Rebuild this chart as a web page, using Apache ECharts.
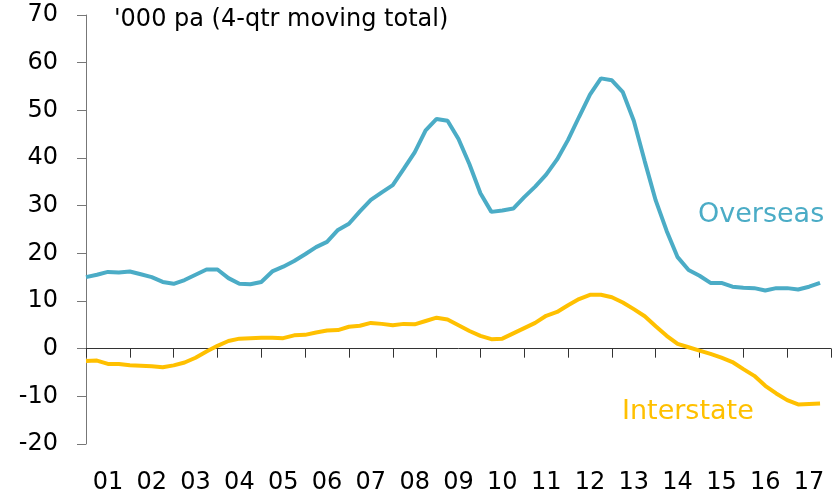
<!DOCTYPE html>
<html>
<head>
<meta charset="utf-8">
<script src="https://cdn.jsdelivr.net/npm/echarts@6/dist/echarts.min.js"></script>
<style>
    html, body { margin: 0; padding: 0; background: #fff; }
    #chart { width: 833px; height: 497px; }
</style>
</head>
<body>
<div id="chart"></div>
<script>
// quarterly, 2001 Q1 .. 2017 Q4 ('000 pa, 4-qtr moving total)
var years = ['01','02','03','04','05','06','07','08','09','10','11','12','13','14','15','16','17'];

var overseas = [
    15.0, 15.5, 16.1, 16.0,
    16.2, 15.6, 15.0, 14.0,
    13.6, 14.4, 15.5, 16.6,
    16.6, 14.8, 13.6, 13.5,
    14.0, 16.2, 17.2, 18.4,
    19.8, 21.3, 22.4, 24.9,
    26.2, 28.8, 31.2, 32.8,
    34.3, 37.7, 41.2, 45.8,
    48.2, 47.8, 44.0, 38.7,
    32.6, 28.7, 29.0, 29.4,
    31.8, 34.0, 36.5, 39.7,
    43.8, 48.6, 53.3, 56.7,
    56.3, 53.8, 47.8, 39.3,
    31.1, 24.7, 19.2, 16.5,
    15.3, 13.8, 13.8, 13.0,
    12.8, 12.7, 12.2, 12.7,
    12.7, 12.4, 13.0, 13.8
];

var interstate = [
    -2.6, -2.5, -3.2, -3.2,
    -3.5, -3.6, -3.7, -3.9,
    -3.5, -2.9, -1.9, -0.6,
    0.6, 1.6, 2.1, 2.2,
    2.3, 2.3, 2.2, 2.8,
    2.9, 3.4, 3.8, 3.9,
    4.6, 4.8, 5.4, 5.2,
    4.9, 5.2, 5.1, 5.8,
    6.5, 6.1, 4.9, 3.7,
    2.7, 2.0, 2.1, 3.2,
    4.3, 5.4, 6.9, 7.7,
    9.1, 10.4, 11.3, 11.3,
    10.8, 9.7, 8.3, 6.8,
    4.7, 2.7, 1.0, 0.3,
    -0.4, -1.1, -1.9, -2.8,
    -4.3, -5.7, -7.8, -9.4,
    -10.8, -11.7, -11.6, -11.5
];

var FONT = 'DejaVu Sans';

function pairs(arr) {
    return arr.map(function (v, i) { return [i, v]; });
}

var chart = echarts.init(document.getElementById('chart'));

chart.setOption({
    animation: false,
    grid: { left: 86, right: 2, top: 15, bottom: 53 },
    xAxis: [
        {
            type: 'value',
            min: 0,
            max: years.length * 4,
            interval: 4,
            axisLine: { onZero: true, lineStyle: { color: '#333', width: 1 } },
            axisTick: { show: true, length: 9, lineStyle: { color: '#333' } },
            axisLabel: { show: false },
            splitLine: { show: false }
        },
        {
            type: 'category',
            data: years,
            position: 'bottom',
            boundaryGap: true,
            axisLine: { show: false, onZero: false },
            axisTick: { show: false },
            axisLabel: { margin: 27, color: '#000', fontSize: 24, fontFamily: FONT }
        }
    ],
    yAxis: {
        type: 'value',
        min: -20,
        max: 70,
        interval: 10,
        axisLine: { show: true, lineStyle: { color: '#777' } },
        axisTick: { show: true, length: 9, lineStyle: { color: '#777' } },
        axisLabel: { margin: 28, color: '#000', fontSize: 24, fontFamily: FONT },
        splitLine: { show: false }
    },
    graphic: [
        {
            type: 'text', left: 114, top: 8,
            style: { text: "'000 pa (4-qtr moving total)", fill: '#000', font: '24px "DejaVu Sans"' }
        },
        {
            type: 'text', left: 698, top: 201,
            style: { text: 'Overseas', fill: '#4BACC6', font: '27px "DejaVu Sans"' }
        },
        {
            type: 'text', left: 622, top: 398,
            style: { text: 'Interstate', fill: '#FFC000', font: '27px "DejaVu Sans"' }
        }
    ],
    series: [
        {
            name: 'Overseas',
            type: 'line',
            xAxisIndex: 0,
            data: pairs(overseas),
            showSymbol: false,
            lineStyle: { color: '#4BACC6', width: 4 },
            z: 3
        },
        {
            name: 'Interstate',
            type: 'line',
            xAxisIndex: 0,
            data: pairs(interstate),
            showSymbol: false,
            lineStyle: { color: '#FFC000', width: 4 },
            z: 2
        }
    ]
});
</script>
</body>
</html>
